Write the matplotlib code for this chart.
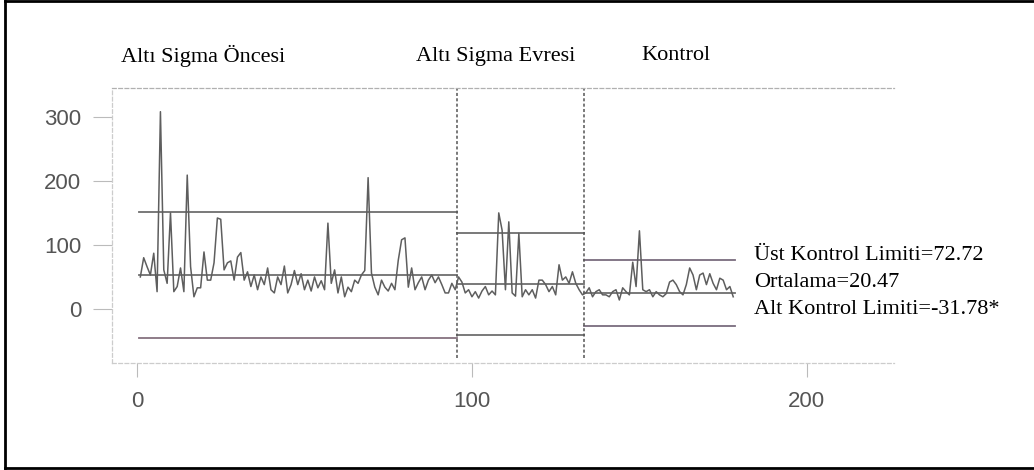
import matplotlib
matplotlib.use("Agg")
import matplotlib.pyplot as plt
from matplotlib.lines import Line2D
import numpy as np

# ---- data ----
pre_values = [50, 80, 66, 53, 87, 27, 308, 61, 40, 150, 27, 35, 64, 27, 209, 66, 19, 33, 33, 89,
              45, 45, 72, 142, 140, 61, 72, 75, 45, 81, 88, 45, 58, 35, 53, 30, 50, 38, 64, 30,
              25, 50, 38, 67, 25, 38, 60, 38, 55, 30, 45, 28, 50, 33, 44, 30, 134, 40, 61, 25,
              50, 19, 34, 27, 45, 40, 53, 60, 205, 56, 34, 22, 45, 34, 28, 40, 30, 76, 108, 111,
              34, 64, 30, 41, 50, 30, 45, 53, 41, 50, 38, 25, 25, 40, 30]
six_values = [50, 42, 25, 30, 19, 27, 17, 28, 35, 22, 28, 22, 150, 123, 30, 136, 25, 20, 118, 19,
              30, 22, 30, 17, 45, 45, 38, 27, 35, 22, 69, 45, 50, 40, 58, 40, 30, 22]
ctrl_values = [25, 33, 19, 27, 30, 22, 22, 19, 27, 30, 14, 33, 27, 22, 73, 35, 122, 30, 27, 30,
               19, 27, 22, 19, 24, 42, 45, 38, 27, 22, 38, 64, 53, 30, 53, 56, 38, 55, 40, 30,
               48, 45, 30, 35, 19]

phase_names = ["Altı Sigma Öncesi", "Altı Sigma Evresi", "Kontrol"]
phase_ucl = [151, 119, 76]
phase_mean = [53, 39, 25]
phase_lcl = [-45, -40, -27]
phase_bounds = [0.5, 95.5, 133.5, 178.5]

annot_lines = ["Üst Kontrol Limiti=72.72", "Ortalama=20.47", "Alt Kontrol Limiti=-31.78*"]
yticks = [0, 100, 200, 300]
xticks = [0, 100, 200]

values = pre_values + six_values + ctrl_values
xs = np.arange(1, len(values) + 1)

W, H = 1034, 470
fig = plt.figure(figsize=(W / 100, H / 100), dpi=100)
fig.patch.set_facecolor("white")

L, R, T, B = 112, 894, 88, 363
ax = fig.add_axes([L / W, 1 - B / H, (R - L) / W, (B - T) / H])
ax.set_xlim(-7.46, 226)
ax.set_ylim(-84.4, 345)

series_color = "#5e5e5e"
lim_colors = ["#6e6e6e", "#6e6e6e", "#7a6c7e"]
lcl_colors = ["#86727f", "#6e6e6e", "#7a6c7e"]

for i in range(3):
    x0, x1 = phase_bounds[i], phase_bounds[i + 1]
    ax.plot([x0, x1], [phase_ucl[i]] * 2, color=lim_colors[i], lw=1.3)
    ax.plot([x0, x1], [phase_mean[i]] * 2, color="#6e6e6e", lw=1.3)
    ax.plot([x0, x1], [phase_lcl[i]] * 2, color=lcl_colors[i], lw=1.3)

for xb in phase_bounds[1:3]:
    ax.axvline(xb, ymin=0.02, ymax=1.0, color="#555555", lw=1.1, ls=(0, (2, 1.5)))

ax.plot(xs, values, color=series_color, lw=1.1)

ax.set_yticks(yticks)
ax.set_xticks(xticks)
tick_font = dict(family=["Liberation Sans Narrow", "Liberation Sans"], size=16)
ax.set_yticklabels([str(v) for v in yticks], color="#555555", **tick_font)
ax.set_xticklabels([str(v) for v in xticks], color="#555555", **tick_font)
ax.tick_params(axis="y", length=14, width=0.8, color="#bbbbbb", pad=8, direction="out")
ax.tick_params(axis="x", length=10, width=0.8, color="#bbbbbb", pad=10, direction="out")

for s in ["left", "bottom", "top"]:
    ax.spines[s].set_color("#cccccc")
    ax.spines[s].set_linewidth(0.9)
    ax.spines[s].set_linestyle((0, (3, 2)))
ax.spines["top"].set_color("#b0b0b0")
ax.spines["right"].set_visible(False)

# phase labels above the chart
serif = dict(family=["Liberation Serif", "DejaVu Serif"], size=16, color="black")
label_px = [121, 416, 641]
for name, px in zip(phase_names, label_px):
    fig.text(px / W, 1 - 56 / H, name, ha="left", va="center", **serif)

# annotation on the right
for k, txt in enumerate(annot_lines):
    fig.text(754 / W, 1 - (256 + 26.5 * k) / H, txt, ha="left", va="center", **serif)

# outer frame (left, top, bottom)
fig.add_artist(Line2D([5 / W, 5 / W], [1 - 468 / H, 1 - 1 / H], color="black", lw=2))
fig.add_artist(Line2D([5 / W, 1.0], [1 - 1 / H, 1 - 1 / H], color="black", lw=2))
fig.add_artist(Line2D([5 / W, 1.0], [1 - 468 / H, 1 - 468 / H], color="black", lw=2))

fig.savefig("out.png", dpi=100, facecolor="white")
